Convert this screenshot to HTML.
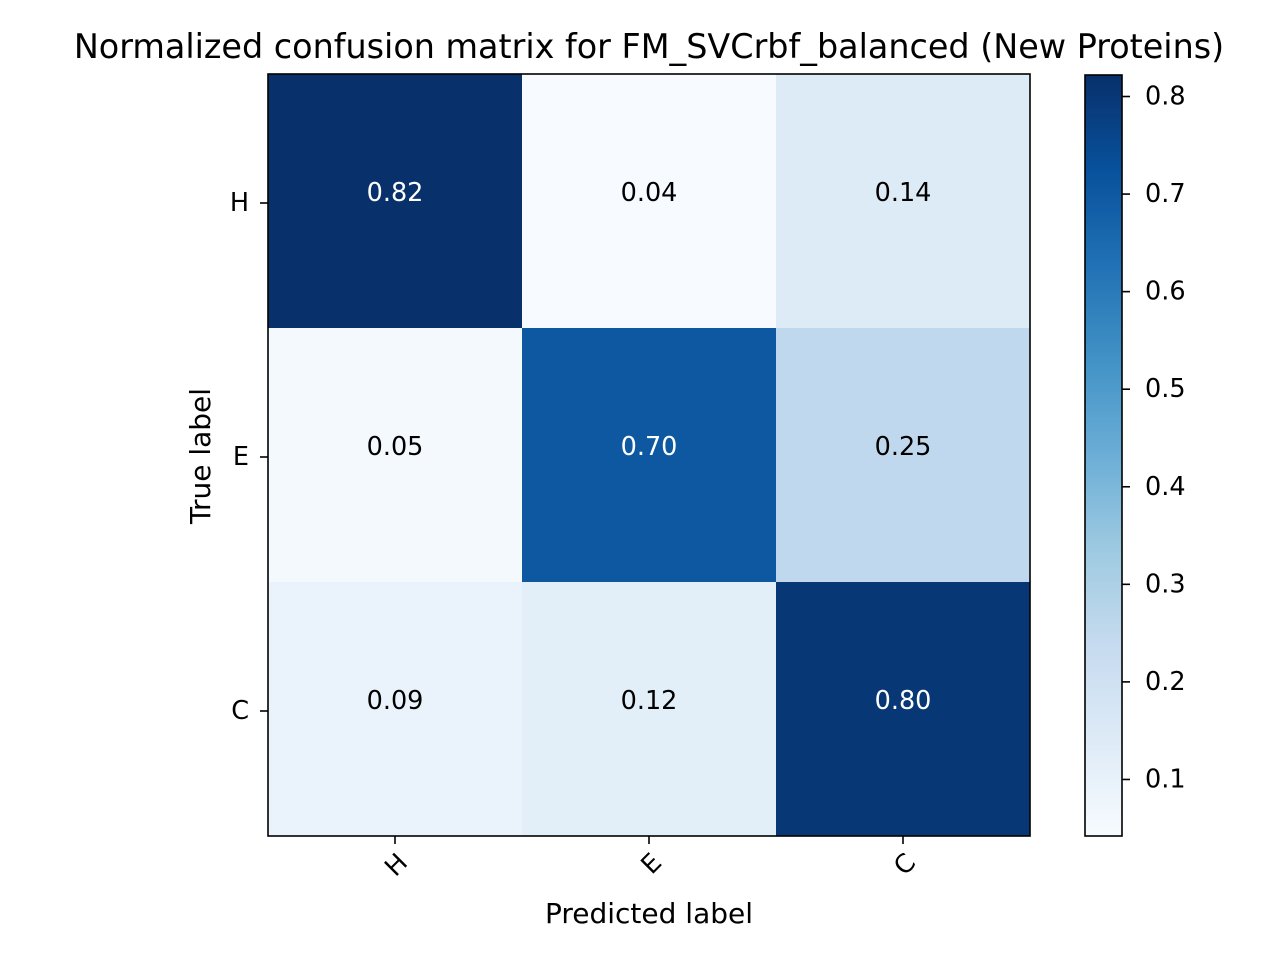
<!DOCTYPE html>
<html><head><meta charset="utf-8"><style>
html,body{margin:0;padding:0;background:#fff;}
svg text{font-family:"DejaVu Sans","Liberation Sans",sans-serif;}
</style></head><body>
<svg id="chart" width="1280" height="960" xmlns="http://www.w3.org/2000/svg">
<defs><linearGradient id="cbgrad" x1="0" y1="1" x2="0" y2="0"></linearGradient></defs>
<g id="cells"></g>
<g id="axes"></g>
</svg>
<script>
const categories = ["H","E","C"];
const rowH = [0.82,0.04,0.14];
const rowE = [0.05,0.70,0.25];
const rowC = [0.09,0.12,0.80];
const cbTicks = [0.1,0.2,0.3,0.4,0.5,0.6,0.7,0.8];
const vmin = 0.04, vmax = 0.82;

const NS="http://www.w3.org/2000/svg";
const cellsG=document.getElementById('cells');
const axesG=document.getElementById('axes');
const L=268,R=1030,T=74,B=836;
const cw=(R-L)/3, ch=(B-T)/3;
const FS='25.5';
const stops=["#f7fbff","#deebf7","#c6dbef","#9ecae1","#6baed6","#4292c6","#2171b5","#08519c","#08306b"];
function hex(h){return [1,3,5].map(i=>parseInt(h.substr(i,2),16));}
function cmap(t){t=Math.max(0,Math.min(1,t));const p=t*8;const i=Math.min(7,Math.floor(p));const f=p-i;
 const a=hex(stops[i]),b=hex(stops[i+1]);return 'rgb('+a.map((v,k)=>Math.round(v+(b[k]-v)*f)).join(',')+')';}
function mk(tag,attrs,parent){const e=document.createElementNS(NS,tag);for(const k in attrs)e.setAttribute(k,attrs[k]);parent.appendChild(e);return e;}
function xPos(j){return L+cw*(j+0.5);}
function yPos(i){return T+ch*(i+0.5);}
const matrix=[rowH,rowE,rowC];
const thresh=vmax/2;
matrix.forEach((row,i)=>row.forEach((v,j)=>{
 const r=mk('rect',{x:L+cw*j,y:T+ch*i,width:cw+0.5,height:ch+0.5,fill:cmap((v-vmin)/(vmax-vmin))},cellsG);
 
 
 const t=mk('text',{x:xPos(j),y:yPos(i)-8,'text-anchor':'middle','dominant-baseline':'central','font-size':FS,fill:v>thresh?'#fff':'#000'},cellsG);
 t.textContent=v.toFixed(2);
 
 
}));
const frame=mk('rect',{x:L,y:T,width:R-L,height:B-T,fill:'none',stroke:'#000','stroke-width':1.6},axesG);


categories.forEach((c,k)=>{
 mk('line',{x1:xPos(k),x2:xPos(k),y1:B,y2:B+8,stroke:'#000','stroke-width':1.6},axesG);
 const xt=mk('text',{x:0,y:0,'text-anchor':'end','font-size':FS,transform:'translate('+(xPos(k)+14)+','+(B+28)+') rotate(-45)'},axesG);
 xt.textContent=c;
 
 
 const ty=yPos(k)+2;
 mk('line',{x1:L-8,x2:L,y1:ty,y2:ty,stroke:'#000','stroke-width':1.6},axesG);
 const yt=mk('text',{x:L-19,y:ty,'text-anchor':'end','dominant-baseline':'central','font-size':FS},axesG);
 yt.textContent=c;
 
 
});
const title=mk('text',{x:649,y:58,'text-anchor':'middle','font-size':'33.4'},axesG);
title.textContent='Normalized confusion matrix for FM_SVCrbf_balanced (New Proteins)';


const xl=mk('text',{x:649,y:923,'text-anchor':'middle','font-size':'28'},axesG);
xl.textContent='Predicted label';


const yl=mk('text',{x:0,y:0,'text-anchor':'middle','font-size':'28',transform:'translate(210,456) rotate(-90)'},axesG);
yl.textContent='True label';


const grad=document.getElementById('cbgrad');
stops.forEach((s,k)=>mk('stop',{offset:(k/8),'stop-color':s},grad));
const CL=1085,CR=1122,CT=75,CB=836;
function cbY(v){return CB-(v-vmin)/(vmax-vmin)*(CB-CT);}
const cb=mk('rect',{x:CL,y:CT,width:CR-CL,height:CB-CT,fill:'url(#cbgrad)',stroke:'#000','stroke-width':1.6},axesG);


cbTicks.forEach(v=>{
 const y=cbY(v)+2;
 mk('line',{x1:CR,x2:CR+8,y1:y,y2:y,stroke:'#000','stroke-width':1.6},axesG);
 const t=mk('text',{x:CR+23,y:y,'dominant-baseline':'central','font-size':FS},axesG);
 t.textContent=v.toFixed(1);
 
 
});
</script>
</body></html>
